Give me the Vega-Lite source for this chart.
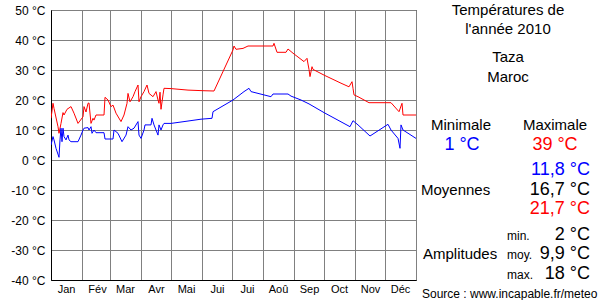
{
  "$schema": "https://vega.github.io/schema/vega-lite/v6.json",
  "background": "white",
  "autosize": {"type": "pad"},
  "padding": {"left": 10, "top": 3, "right": 0, "bottom": 0},
  "spacing": 0,
  "bounds": "flush",
  "config": {
    "font": "Liberation Sans",
    "view": {"stroke": "black", "strokeWidth": 1},
    "axis": {"labelFont": "Liberation Sans", "labelColor": "black", "domainColor": "black", "gridColor": "#808080", "gridWidth": 1, "gridOpacity": 1, "ticks": false, "title": null}
  },
  "hconcat": [
    {
      "width": 365,
      "height": 270,
      "data": {"values": [
        {"jour": 0, "serie": "Maximale", "temp": 13.9},
        {"jour": 2, "serie": "Maximale", "temp": 18.9},
        {"jour": 3, "serie": "Maximale", "temp": 17.2},
        {"jour": 7, "serie": "Maximale", "temp": 11.1},
        {"jour": 8, "serie": "Maximale", "temp": 8.9},
        {"jour": 10, "serie": "Maximale", "temp": 12.2},
        {"jour": 12, "serie": "Maximale", "temp": 15.8},
        {"jour": 13, "serie": "Maximale", "temp": 15},
        {"jour": 16, "serie": "Maximale", "temp": 16.9},
        {"jour": 20, "serie": "Maximale", "temp": 17.8},
        {"jour": 23, "serie": "Maximale", "temp": 15.6},
        {"jour": 27, "serie": "Maximale", "temp": 12.2},
        {"jour": 32, "serie": "Maximale", "temp": 14.4},
        {"jour": 33, "serie": "Maximale", "temp": 17.8},
        {"jour": 35, "serie": "Maximale", "temp": 16},
        {"jour": 37, "serie": "Maximale", "temp": 18.9},
        {"jour": 38, "serie": "Maximale", "temp": 19},
        {"jour": 40, "serie": "Maximale", "temp": 12.2},
        {"jour": 42, "serie": "Maximale", "temp": 13.9},
        {"jour": 43, "serie": "Maximale", "temp": 13.3},
        {"jour": 45, "serie": "Maximale", "temp": 15},
        {"jour": 53, "serie": "Maximale", "temp": 15},
        {"jour": 54, "serie": "Maximale", "temp": 20.9},
        {"jour": 57, "serie": "Maximale", "temp": 20},
        {"jour": 60, "serie": "Maximale", "temp": 17.8},
        {"jour": 62, "serie": "Maximale", "temp": 18.3},
        {"jour": 65, "serie": "Maximale", "temp": 15.6},
        {"jour": 70, "serie": "Maximale", "temp": 12.8},
        {"jour": 73, "serie": "Maximale", "temp": 15},
        {"jour": 76, "serie": "Maximale", "temp": 18.9},
        {"jour": 77, "serie": "Maximale", "temp": 22.2},
        {"jour": 79, "serie": "Maximale", "temp": 19.4},
        {"jour": 82, "serie": "Maximale", "temp": 21.1},
        {"jour": 84, "serie": "Maximale", "temp": 22.8},
        {"jour": 87, "serie": "Maximale", "temp": 25},
        {"jour": 88, "serie": "Maximale", "temp": 19.4},
        {"jour": 90, "serie": "Maximale", "temp": 21.1},
        {"jour": 93, "serie": "Maximale", "temp": 22.8},
        {"jour": 96, "serie": "Maximale", "temp": 25},
        {"jour": 98, "serie": "Maximale", "temp": 22.2},
        {"jour": 102, "serie": "Maximale", "temp": 21.1},
        {"jour": 105, "serie": "Maximale", "temp": 22.8},
        {"jour": 107, "serie": "Maximale", "temp": 20},
        {"jour": 108, "serie": "Maximale", "temp": 18.9},
        {"jour": 109, "serie": "Maximale", "temp": 22.6},
        {"jour": 110, "serie": "Maximale", "temp": 16.9},
        {"jour": 112, "serie": "Maximale", "temp": 21.7},
        {"jour": 113, "serie": "Maximale", "temp": 23.9},
        {"jour": 120, "serie": "Maximale", "temp": 23.8},
        {"jour": 137, "serie": "Maximale", "temp": 23.3},
        {"jour": 152, "serie": "Maximale", "temp": 23.1},
        {"jour": 163, "serie": "Maximale", "temp": 23},
        {"jour": 182, "serie": "Maximale", "temp": 36.7},
        {"jour": 183, "serie": "Maximale", "temp": 38},
        {"jour": 185, "serie": "Maximale", "temp": 36.9},
        {"jour": 192, "serie": "Maximale", "temp": 37.2},
        {"jour": 197, "serie": "Maximale", "temp": 38},
        {"jour": 222, "serie": "Maximale", "temp": 38},
        {"jour": 223, "serie": "Maximale", "temp": 38.9},
        {"jour": 226, "serie": "Maximale", "temp": 35.9},
        {"jour": 235, "serie": "Maximale", "temp": 35.9},
        {"jour": 237, "serie": "Maximale", "temp": 37},
        {"jour": 242, "serie": "Maximale", "temp": 35.6},
        {"jour": 253, "serie": "Maximale", "temp": 32.8},
        {"jour": 256, "serie": "Maximale", "temp": 33.9},
        {"jour": 257, "serie": "Maximale", "temp": 32},
        {"jour": 258, "serie": "Maximale", "temp": 30.2},
        {"jour": 259, "serie": "Maximale", "temp": 27.8},
        {"jour": 261, "serie": "Maximale", "temp": 31.1},
        {"jour": 262, "serie": "Maximale", "temp": 30.2},
        {"jour": 273, "serie": "Maximale", "temp": 28.3},
        {"jour": 290, "serie": "Maximale", "temp": 25.6},
        {"jour": 298, "serie": "Maximale", "temp": 24.4},
        {"jour": 301, "serie": "Maximale", "temp": 26.1},
        {"jour": 302, "serie": "Maximale", "temp": 23.9},
        {"jour": 303, "serie": "Maximale", "temp": 21.7},
        {"jour": 307, "serie": "Maximale", "temp": 21.1},
        {"jour": 318, "serie": "Maximale", "temp": 19.1},
        {"jour": 340, "serie": "Maximale", "temp": 19.1},
        {"jour": 348, "serie": "Maximale", "temp": 16.1},
        {"jour": 351, "serie": "Maximale", "temp": 18.9},
        {"jour": 352, "serie": "Maximale", "temp": 15},
        {"jour": 365, "serie": "Maximale", "temp": 15},
        {"jour": 0, "serie": "Minimale", "temp": 5},
        {"jour": 2, "serie": "Minimale", "temp": 7.8},
        {"jour": 3, "serie": "Minimale", "temp": 6.7},
        {"jour": 5, "serie": "Minimale", "temp": 3.9},
        {"jour": 8, "serie": "Minimale", "temp": 0.9},
        {"jour": 9, "serie": "Minimale", "temp": 6.7},
        {"jour": 10, "serie": "Minimale", "temp": 10.6},
        {"jour": 11, "serie": "Minimale", "temp": 6.1},
        {"jour": 12, "serie": "Minimale", "temp": 10.6},
        {"jour": 13, "serie": "Minimale", "temp": 7.8},
        {"jour": 15, "serie": "Minimale", "temp": 6.7},
        {"jour": 17, "serie": "Minimale", "temp": 8.3},
        {"jour": 18, "serie": "Minimale", "temp": 6.7},
        {"jour": 20, "serie": "Minimale", "temp": 6.1},
        {"jour": 27, "serie": "Minimale", "temp": 6.1},
        {"jour": 30, "serie": "Minimale", "temp": 8.3},
        {"jour": 32, "serie": "Minimale", "temp": 10},
        {"jour": 33, "serie": "Minimale", "temp": 10.6},
        {"jour": 37, "serie": "Minimale", "temp": 10.8},
        {"jour": 38, "serie": "Minimale", "temp": 10},
        {"jour": 40, "serie": "Minimale", "temp": 11.1},
        {"jour": 41, "serie": "Minimale", "temp": 8.9},
        {"jour": 43, "serie": "Minimale", "temp": 10},
        {"jour": 45, "serie": "Minimale", "temp": 9.1},
        {"jour": 53, "serie": "Minimale", "temp": 9.1},
        {"jour": 54, "serie": "Minimale", "temp": 7},
        {"jour": 62, "serie": "Minimale", "temp": 7},
        {"jour": 63, "serie": "Minimale", "temp": 10},
        {"jour": 67, "serie": "Minimale", "temp": 8.9},
        {"jour": 71, "serie": "Minimale", "temp": 6.1},
        {"jour": 75, "serie": "Minimale", "temp": 8.3},
        {"jour": 77, "serie": "Minimale", "temp": 11.1},
        {"jour": 80, "serie": "Minimale", "temp": 10},
        {"jour": 83, "serie": "Minimale", "temp": 10.6},
        {"jour": 87, "serie": "Minimale", "temp": 12.8},
        {"jour": 88, "serie": "Minimale", "temp": 8.3},
        {"jour": 90, "serie": "Minimale", "temp": 7.2},
        {"jour": 93, "serie": "Minimale", "temp": 10},
        {"jour": 94, "serie": "Minimale", "temp": 11.7},
        {"jour": 100, "serie": "Minimale", "temp": 11.7},
        {"jour": 101, "serie": "Minimale", "temp": 13.9},
        {"jour": 103, "serie": "Minimale", "temp": 11.7},
        {"jour": 107, "serie": "Minimale", "temp": 8.3},
        {"jour": 108, "serie": "Minimale", "temp": 11.7},
        {"jour": 110, "serie": "Minimale", "temp": 10},
        {"jour": 112, "serie": "Minimale", "temp": 11.7},
        {"jour": 113, "serie": "Minimale", "temp": 12.2},
        {"jour": 120, "serie": "Minimale", "temp": 12.2},
        {"jour": 133, "serie": "Minimale", "temp": 12.8},
        {"jour": 150, "serie": "Minimale", "temp": 13.6},
        {"jour": 161, "serie": "Minimale", "temp": 13.9},
        {"jour": 162, "serie": "Minimale", "temp": 16.1},
        {"jour": 182, "serie": "Minimale", "temp": 20},
        {"jour": 193, "serie": "Minimale", "temp": 22.8},
        {"jour": 198, "serie": "Minimale", "temp": 23.9},
        {"jour": 200, "serie": "Minimale", "temp": 22.8},
        {"jour": 220, "serie": "Minimale", "temp": 21.1},
        {"jour": 222, "serie": "Minimale", "temp": 22},
        {"jour": 237, "serie": "Minimale", "temp": 22},
        {"jour": 240, "serie": "Minimale", "temp": 21.3},
        {"jour": 250, "serie": "Minimale", "temp": 20},
        {"jour": 258, "serie": "Minimale", "temp": 18.7},
        {"jour": 273, "serie": "Minimale", "temp": 15.8},
        {"jour": 299, "serie": "Minimale", "temp": 11.1},
        {"jour": 302, "serie": "Minimale", "temp": 13.1},
        {"jour": 307, "serie": "Minimale", "temp": 11.7},
        {"jour": 319, "serie": "Minimale", "temp": 8},
        {"jour": 337, "serie": "Minimale", "temp": 11.9},
        {"jour": 340, "serie": "Minimale", "temp": 10},
        {"jour": 347, "serie": "Minimale", "temp": 7.2},
        {"jour": 349, "serie": "Minimale", "temp": 3.9},
        {"jour": 350, "serie": "Minimale", "temp": 11.7},
        {"jour": 352, "serie": "Minimale", "temp": 10},
        {"jour": 365, "serie": "Minimale", "temp": 7.2}
      ]},
      "mark": {"type": "line", "strokeWidth": 1, "interpolate": "linear", "clip": true},
      "encoding": {
        "x": {
          "field": "jour", "type": "quantitative",
          "scale": {"domain": [0, 365], "nice": false, "zero": false},
          "axis": {
            "values": [0, 31, 59, 90, 120, 151, 181, 212, 243, 273, 304, 334, 365],
            "labelExpr": "['Jan','Fév','Mar','Avr','Mai','Jui','Jui','Aoû','Sep','Oct','Nov','Déc',''][indexof([0,31,59,90,120,151,181,212,243,273,304,334,365], datum.value)]",
            "labelOffset": 15, "labelAlign": "center", "labelFontSize": 11, "labelPadding": 3,
            "labelFlush": false, "labelOverlap": false, "labelBound": false, "grid": true, "domain": true
          }
        },
        "y": {
          "field": "temp", "type": "quantitative",
          "scale": {"domain": [-40, 50], "nice": false, "zero": false},
          "axis": {
            "values": [-40, -30, -20, -10, 0, 10, 20, 30, 40, 50],
            "labelExpr": "datum.value + ' °C'",
            "labelFontSize": 12, "labelPadding": 6, "grid": true, "domain": true,
            "labelOverlap": false, "labelFlush": false, "labelBound": false
          }
        },
        "color": {
          "field": "serie", "type": "nominal",
          "scale": {"domain": ["Minimale", "Maximale", "Autre"], "range": ["#0000ff", "#ff0000", "#000000"]},
          "legend": null
        }
      }
    },
    {
      "width": 185,
      "height": 290,
      "view": {"stroke": null},
      "data": {"values": [
        {"texte": "Températures de", "col": 92, "ligne": 5, "groupe": "titre", "serie": "Autre"},
        {"texte": "l'année 2010", "col": 92, "ligne": 24, "groupe": "titre", "serie": "Autre"},
        {"texte": "Taza", "col": 92, "ligne": 52, "groupe": "titre", "serie": "Autre"},
        {"texte": "Maroc", "col": 92, "ligne": 72, "groupe": "titre", "serie": "Autre"},
        {"texte": "Minimale", "col": 45, "ligne": 120, "groupe": "titre", "serie": "Autre"},
        {"texte": "Maximale", "col": 139, "ligne": 120, "groupe": "titre", "serie": "Autre"},
        {"texte": "1 °C", "col": 46, "ligne": 140, "groupe": "valeur_centre", "serie": "Minimale"},
        {"texte": "39 °C", "col": 139, "ligne": 140, "groupe": "valeur_centre", "serie": "Maximale"},
        {"texte": "11,8 °C", "col": 174, "ligne": 165, "groupe": "valeur", "serie": "Minimale"},
        {"texte": "Moyennes", "col": 5, "ligne": 185, "groupe": "libelle", "serie": "Autre"},
        {"texte": "16,7 °C", "col": 174, "ligne": 185, "groupe": "valeur", "serie": "Autre"},
        {"texte": "21,7 °C", "col": 174, "ligne": 204, "groupe": "valeur", "serie": "Maximale"},
        {"texte": "min.", "col": 91, "ligne": 230, "groupe": "petit", "serie": "Autre"},
        {"texte": "2 °C", "col": 174, "ligne": 230, "groupe": "valeur", "serie": "Autre"},
        {"texte": "Amplitudes", "col": 7, "ligne": 249, "groupe": "libelle", "serie": "Autre"},
        {"texte": "moy.", "col": 91, "ligne": 249, "groupe": "petit", "serie": "Autre"},
        {"texte": "9,9 °C", "col": 174, "ligne": 249, "groupe": "valeur", "serie": "Autre"},
        {"texte": "max.", "col": 91, "ligne": 269, "groupe": "petit", "serie": "Autre"},
        {"texte": "18 °C", "col": 174, "ligne": 269, "groupe": "valeur", "serie": "Autre"},
        {"texte": "Source : www.incapable.fr/meteo", "col": 6, "ligne": 288, "groupe": "source", "serie": "Autre"}
      ]},
      "encoding": {
        "x": {"field": "col", "type": "quantitative", "scale": {"domain": [0, 185], "nice": false, "zero": false}, "axis": null},
        "y": {"field": "ligne", "type": "quantitative", "scale": {"domain": [0, 290], "nice": false, "zero": false, "reverse": true}, "axis": null},
        "text": {"field": "texte"},
        "color": {"field": "serie", "type": "nominal", "scale": {"domain": ["Minimale", "Maximale", "Autre"], "range": ["#0000ff", "#ff0000", "#000000"]}, "legend": null}
      },
      "layer": [
        {"transform": [{"filter": "datum.groupe == 'titre'"}], "mark": {"type": "text", "align": "center", "baseline": "alphabetic", "fontSize": 15}},
        {"transform": [{"filter": "datum.groupe == 'valeur_centre'"}], "mark": {"type": "text", "align": "center", "baseline": "alphabetic", "fontSize": 18}},
        {"transform": [{"filter": "datum.groupe == 'valeur'"}], "mark": {"type": "text", "align": "right", "baseline": "alphabetic", "fontSize": 18}},
        {"transform": [{"filter": "datum.groupe == 'libelle'"}], "mark": {"type": "text", "align": "left", "baseline": "alphabetic", "fontSize": 15}},
        {"transform": [{"filter": "datum.groupe == 'petit'"}], "mark": {"type": "text", "align": "left", "baseline": "alphabetic", "fontSize": 12}},
        {"transform": [{"filter": "datum.groupe == 'source'"}], "mark": {"type": "text", "align": "left", "baseline": "alphabetic", "fontSize": 12}}
      ]
    }
  ]
}
